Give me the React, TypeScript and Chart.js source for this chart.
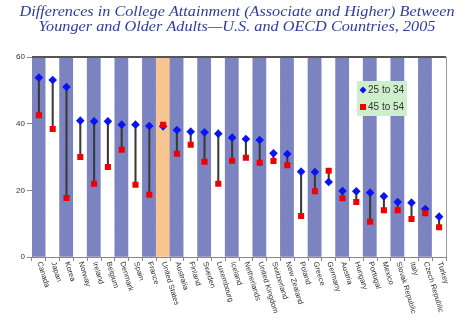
import React, { useEffect, useRef } from 'react';
import { Chart, registerables } from 'chart.js';

Chart.register(...registerables);

const countries = [
  'Canada', 'Japan', 'Korea', 'Norway', 'Ireland', 'Belgium', 'Denmark', 'Spain', 'France',
  'United States', 'Australia', 'Finland', 'Sweden', 'Luxembourg', 'Iceland', 'Netherlands',
  'United Kingdom', 'Switzerland', 'New Zealand', 'Poland', 'Greece', 'Germany', 'Austria',
  'Hungary', 'Portugal', 'Mexico', 'Slovak Republic', 'Italy', 'Czech Republic', 'Turkey',
];
const age25to34 = [
  53.8, 53.1, 51.0, 40.9, 40.7, 40.7, 39.7, 39.7, 39.3, 39.2, 38.1, 37.6, 37.4, 37.0, 35.8,
  35.4, 35.1, 31.1, 30.9, 25.6, 25.5, 22.5, 19.8, 19.7, 19.3, 18.2, 16.5, 16.3, 14.4, 12.1,
];
const age45to54 = [
  42.5, 38.4, 17.7, 30.0, 22.0, 27.0, 32.2, 21.7, 18.7, 39.7, 31.0, 33.7, 28.6, 22.0, 28.9,
  29.8, 28.3, 28.8, 27.5, 12.3, 19.7, 25.9, 17.6, 16.5, 10.6, 14.0, 14.0, 11.4, 13.1, 8.9,
];
const seriesLabels = ['25 to 34', '45 to 54'];
const titleLines = [
  'Differences in College Attainment (Associate and Higher) Between',
  'Younger and Older Adults\u2014U.S. and OECD Countries, 2005',
];
const highlightCountry = 'United States';
const yMin = 0;
const yMax = 60;
const yStep = 20;

function makeBandPattern(): CanvasPattern | string {
  const c = document.createElement('canvas');
  c.width = 6;
  c.height = 6;
  const g = c.getContext('2d');
  if (!g) return '#7C84C1';
  g.fillStyle = '#7C84C1';
  g.fillRect(0, 0, 6, 6);
  g.strokeStyle = 'rgba(95,102,170,0.15)';
  g.lineWidth = 1;
  g.beginPath();
  g.moveTo(0, 6);
  g.lineTo(6, 0);
  g.stroke();
  return g.createPattern(c, 'repeat') || '#7C84C1';
}

const decorPlugin = {
  id: 'decor',
  beforeDraw(chart: any) {
    const ctx = chart.ctx;
    ctx.save();
    ctx.fillStyle = '#ffffff';
    ctx.fillRect(0, 0, chart.width, chart.height);
    ctx.fillStyle = '#2E3C9E';
    ctx.font = 'italic 14.5px "Liberation Serif", "Times New Roman", serif';
    ctx.textAlign = 'center';
    ctx.textBaseline = 'alphabetic';
    const w = ctx.measureText(titleLines[0]).width || 435;
    const sx = 435 / w;
    ctx.translate(237, 0);
    ctx.scale(sx, 1);
    ctx.fillText(titleLines[0], 0, 15.5);
    ctx.fillText(titleLines[1], 0, 31);
    ctx.restore();
  },
  afterDraw(chart: any) {
    const ctx = chart.ctx;
    const area = chart.chartArea;
    const xScale = chart.scales.x;
    ctx.save();
    // frame lines
    ctx.strokeStyle = '#555';
    ctx.lineWidth = 2;
    ctx.beginPath();
    ctx.moveTo(area.left, area.top);
    ctx.lineTo(area.right, area.top);
    ctx.stroke();
    ctx.strokeStyle = '#999';
    ctx.lineWidth = 1;
    ctx.beginPath();
    ctx.moveTo(area.right + 0.5, area.top);
    ctx.lineTo(area.right + 0.5, area.bottom);
    ctx.stroke();

    // rotated category labels
    ctx.fillStyle = '#333';
    ctx.font = '7.5px "Liberation Sans", Arial, sans-serif';
    ctx.textAlign = 'left';
    ctx.textBaseline = 'middle';
    countries.forEach((name, i) => {
      const x = xScale.getPixelForValue(i);
      ctx.save();
      ctx.translate(x + 0.5, area.bottom + 5);
      ctx.rotate((73 * Math.PI) / 180);
      ctx.fillText(name, 0, 0);
      ctx.restore();
    });

    // legend box
    const lx = 357;
    const ly = 81;
    ctx.fillStyle = '#CDEFCB';
    ctx.fillRect(lx, ly, 50, 35);
    ctx.font = '10px "Liberation Sans", Arial, sans-serif';
    ctx.textBaseline = 'middle';
    ctx.fillStyle = '#0A14F0';
    ctx.beginPath();
    ctx.moveTo(lx + 6, ly + 9 - 3.5);
    ctx.lineTo(lx + 9.5, ly + 9);
    ctx.lineTo(lx + 6, ly + 9 + 3.5);
    ctx.lineTo(lx + 2.5, ly + 9);
    ctx.closePath();
    ctx.fill();
    ctx.fillStyle = '#333';
    ctx.fillText(seriesLabels[0], lx + 11, ly + 9.5);
    ctx.fillStyle = '#F00000';
    ctx.fillRect(lx + 3, ly + 23, 6, 6);
    ctx.fillStyle = '#333';
    ctx.fillText(seriesLabels[1], lx + 11, ly + 26.5);
    ctx.restore();
  },
};

export default function App() {
  const ref = useRef<HTMLCanvasElement | null>(null);

  useEffect(() => {
    if (!ref.current) return;
    const pattern = makeBandPattern();
    const bandColors = countries.map((c, i) =>
      c === highlightCountry ? '#F6C590' : i % 2 === 0 ? pattern : '#FFFFFF'
    );
    const chart = new Chart(ref.current, {
      type: 'bar',
      data: {
        labels: countries,
        datasets: [
          {
            type: 'line',
            label: seriesLabels[1],
            data: age45to54,
            showLine: false,
            pointStyle: 'rect',
            pointRadius: 4.3,
            pointBackgroundColor: '#F00000',
            pointBorderColor: '#F00000',
            pointBorderWidth: 0,
            order: 0,
          } as any,
          {
            type: 'line',
            label: seriesLabels[0],
            data: age25to34,
            showLine: false,
            pointStyle: 'rectRot',
            pointRadius: 4.3,
            pointBackgroundColor: '#0A14F0',
            pointBorderColor: '#0A14F0',
            pointBorderWidth: 0,
            order: 1,
          } as any,
          {
            type: 'bar',
            label: 'gap',
            data: countries.map((_, i) => [age45to54[i], age25to34[i]]),
            backgroundColor: '#3a3a3a',
            barThickness: 1.4,
            grouped: false,
            order: 2,
          } as any,
          {
            type: 'bar',
            label: 'band',
            data: countries.map(() => yMax),
            backgroundColor: bandColors,
            barPercentage: 1,
            categoryPercentage: 1,
            grouped: false,
            order: 3,
          } as any,
        ],
      },
      options: {
        responsive: false,
        animation: false,
        layout: { padding: { top: 57, right: 21, left: 0, bottom: 0 } },
        plugins: {
          legend: { display: false },
          tooltip: { enabled: false },
          title: { display: false },
        },
        scales: {
          x: {
            type: 'category',
            offset: true,
            grid: {
              display: true,
              drawOnChartArea: false,
              drawTicks: true,
              tickLength: 4,
              color: '#888',
              offset: true,
            },
            border: { color: '#888' },
            ticks: { display: false },
            afterFit: (s: any) => {
              s.height = 67;
            },
          },
          y: {
            min: yMin,
            max: yMax,
            ticks: {
              stepSize: yStep,
              font: { size: 8, family: '"Liberation Sans", Arial, sans-serif' },
              color: '#333',
              padding: 2,
            },
            grid: { drawOnChartArea: false, tickLength: 5, color: '#888' },
            border: { color: '#888' },
            afterFit: (s: any) => {
              s.width = 32;
            },
          },
        },
      } as any,
      plugins: [decorPlugin],
    });
    return () => chart.destroy();
  }, []);

  return (
    <div style={{ position: 'fixed', left: 0, top: 0, width: 467, height: 324 }}>
      <canvas ref={ref} width={467} height={324} style={{ width: 467, height: 324 }} />
    </div>
  );
}
